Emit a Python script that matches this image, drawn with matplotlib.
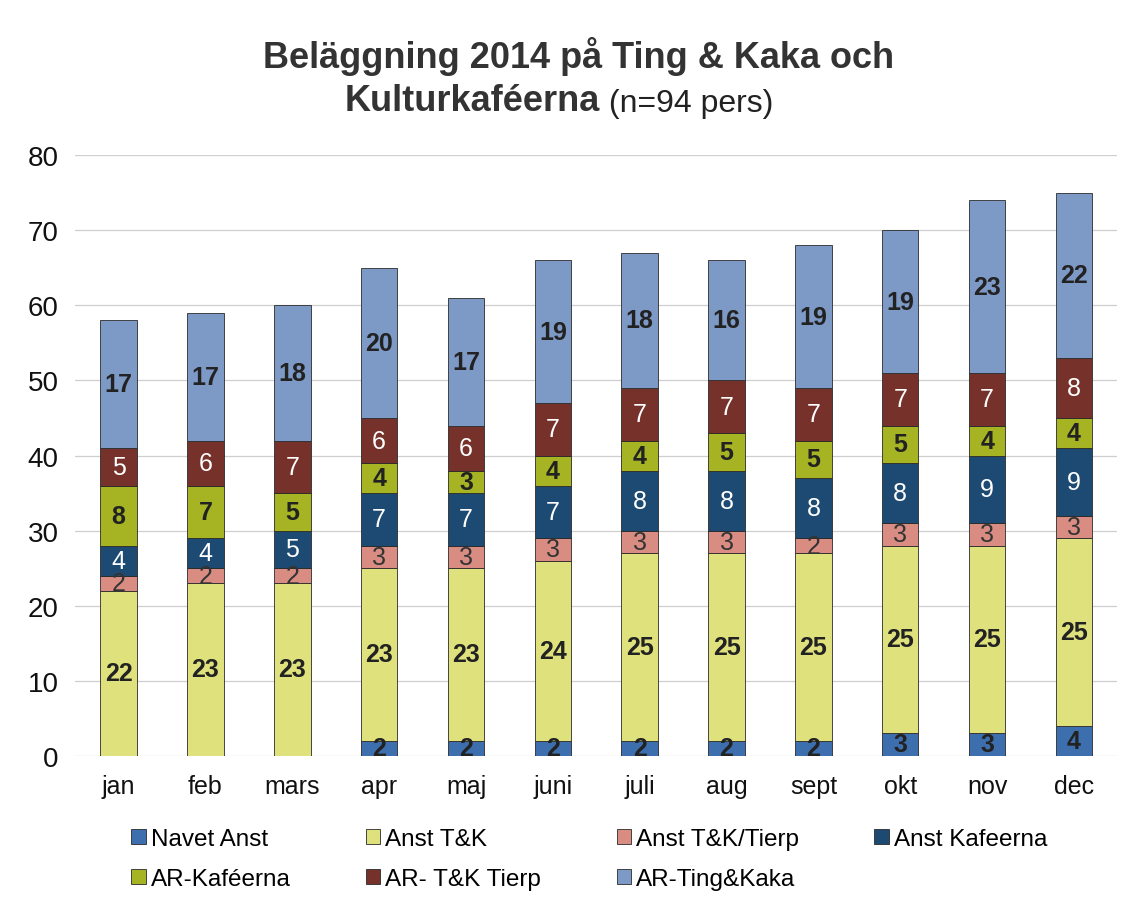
import numpy as np
import matplotlib.pyplot as plt

months = ['jan', 'feb', 'mars', 'apr', 'maj', 'juni', 'juli', 'aug', 'sept', 'okt', 'nov', 'dec']

series_names = ['Navet Anst', 'Anst T&K', 'Anst T&K/Tierp', 'Anst Kafeerna',
                'AR-Kaféerna', 'AR- T&K Tierp', 'AR-Ting&Kaka']

navet_anst = [0, 0, 0, 2, 2, 2, 2, 2, 2, 3, 3, 4]
anst_tk = [22, 23, 23, 23, 23, 24, 25, 25, 25, 25, 25, 25]
anst_tk_tierp = [2, 2, 2, 3, 3, 3, 3, 3, 2, 3, 3, 3]
anst_kafeerna = [4, 4, 5, 7, 7, 7, 8, 8, 8, 8, 9, 9]
ar_kafeerna = [8, 7, 5, 4, 3, 4, 4, 5, 5, 5, 4, 4]
ar_tk_tierp = [5, 6, 7, 6, 6, 7, 7, 7, 7, 7, 7, 8]
ar_ting_kaka = [17, 17, 18, 20, 17, 19, 18, 16, 19, 19, 23, 22]

series = [navet_anst, anst_tk, anst_tk_tierp, anst_kafeerna,
          ar_kafeerna, ar_tk_tierp, ar_ting_kaka]

colors = ['#3d6fae', '#dfe27c', '#d98c82', '#1d4a72',
          '#a6b424', '#76322a', '#7d99c6']
# label style per series: (color, weight)
label_style = [('#222222', 'bold'), ('#222222', 'bold'), ('#333333', 'normal'),
               ('white', 'normal'), ('#222222', 'bold'), ('white', 'normal'),
               ('#222222', 'bold')]

plt.rcParams['font.family'] = ['Liberation Sans', 'DejaVu Sans']

fig = plt.figure(figsize=(11.39, 9.04), dpi=100)
ax = fig.add_axes([0.066, 0.163, 0.915, 0.664])

x = np.arange(len(months))
bottom = np.zeros(len(months))
bars = []
for name, vals, col, (tc, tw) in zip(series_names, series, colors, label_style):
    vals = np.array(vals, dtype=float)
    b = ax.bar(x, vals, width=0.42, bottom=bottom, color=col,
               edgecolor='#2a2a2a', linewidth=0.6, label=name, zorder=3)
    bars.append(b)
    for xi, v, bt in zip(x, vals, bottom):
        if v > 0:
            ax.text(xi, bt + v / 2, f'{int(v)}', ha='center', va='center',
                    color=tc, fontweight=tw, fontsize=18, zorder=4)
    bottom += vals

ax.set_ylim(0, 80)
ax.set_xlim(-0.5, len(months) - 0.5)
ax.set_yticks(range(0, 81, 10))
ax.set_xticks(x)
ax.set_xticklabels(months)
ax.tick_params(axis='both', length=0, colors='#111111')
ax.tick_params(axis='x', pad=13, labelsize=18)
ax.tick_params(axis='y', pad=12, labelsize=20)
ax.yaxis.grid(True, color='#cfcfcf', linewidth=0.9, zorder=0)
ax.set_axisbelow(True)
for s in ax.spines.values():
    s.set_visible(False)

# title
fig.text(0.508, 0.938, 'Beläggning 2014 på Ting & Kaka och', ha='center', va='center',
         fontsize=26, fontweight='bold', color='#333333')
t2 = fig.text(0.527, 0.888, 'Kulturkaféerna', ha='right', va='center',
              fontsize=26, fontweight='bold', color='#333333')
ax.annotate(' (n=94 pers)', xy=(1, 0), xycoords=t2, va='bottom', ha='left',
            fontsize=23, color='#222222')

# legend, filled row-wise
order = [0, 4, 1, 5, 2, 6, 3]
handles = [bars[i] for i in order]
labels = [series_names[i] for i in order]
fig.legend(handles, labels, loc='lower left', bbox_to_anchor=(0.096, -0.01),
           ncol=4, frameon=False, fontsize=17.5, handlelength=0.6,
           handleheight=0.6, handletextpad=0.2, columnspacing=3.1,
           labelspacing=0.75)

fig.savefig('out.png', dpi=100)
